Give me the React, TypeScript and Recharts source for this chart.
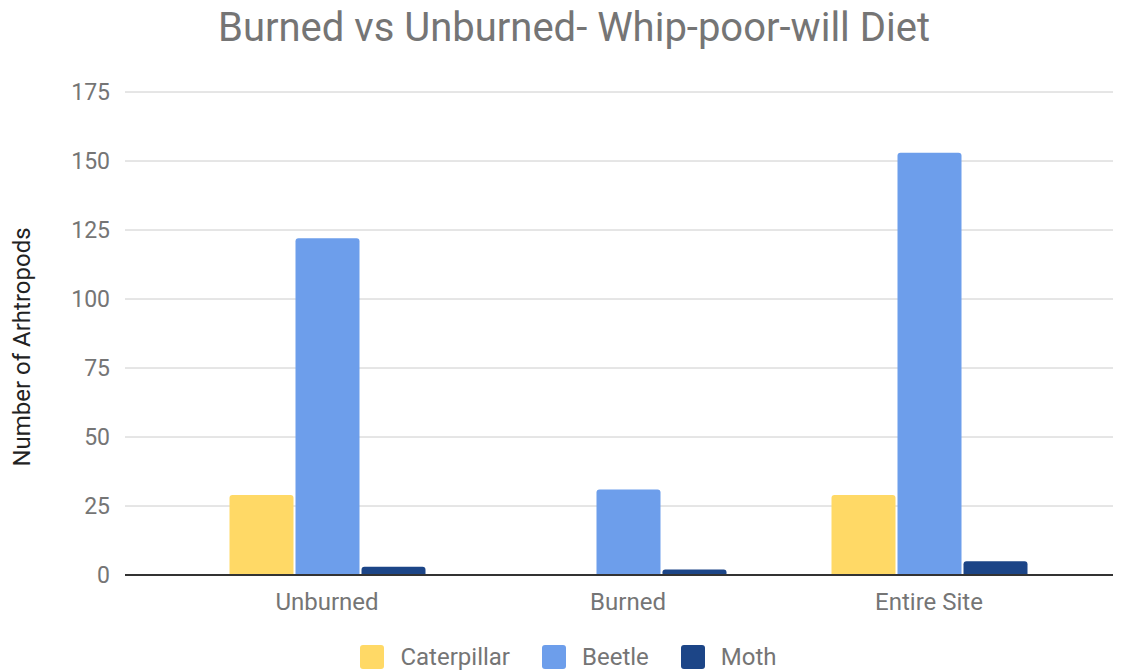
import React from 'react';
import { BarChart, Bar, XAxis, YAxis, CartesianGrid, Legend } from 'recharts';

const categories = ['Unburned', 'Burned', 'Entire Site'];
const caterpillar = [29, 0, 29];
const beetle = [122, 31, 153];
const moth = [3, 2, 5];
const yTicks = [0, 25, 50, 75, 100, 125, 150, 175];

const seriesNames = ['Caterpillar', 'Beetle', 'Moth'];
const seriesColors = ['#ffd966', '#6d9eeb', '#1c4587'];

const data = categories.map((c, i) => ({
  name: c,
  Caterpillar: caterpillar[i],
  Beetle: beetle[i],
  Moth: moth[i],
}));

const FONT = 'Roboto, "Noto Sans", sans-serif';

const LegendContent = () => (
  <div style={{ display: 'flex', justifyContent: 'center', height: 24, alignItems: 'center', fontFamily: FONT, paddingLeft: 24 }}>
    {seriesNames.map((n, i) => (
      <div key={n} style={{ display: 'flex', alignItems: 'center', marginLeft: i === 0 ? 0 : 32 }}>
        <div style={{ width: 24, height: 24, borderRadius: 3, background: seriesColors[i] }} />
        <span style={{ marginLeft: 16, fontSize: 24, color: '#757575', lineHeight: '24px' }}>{n}</span>
      </div>
    ))}
  </div>
);

const YLabel = () => {
  const cy = 347;
  return (
    <text
      x={22}
      y={cy}
      transform={`rotate(-90, 22, ${cy})`}
      textAnchor="middle"
      dominantBaseline="central"
      fill="#222222"
      fontSize={24}
      fontFamily={FONT}
    >
      Number of Arhtropods
    </text>
  );
};

export default function App() {
  return (
    <div style={{ position: 'absolute', left: 0, top: 0, width: 1127, height: 672, background: '#fff', fontFamily: FONT }}>
      <div
        style={{
          position: 'absolute',
          top: 2,
          left: 0,
          width: 1148,
          textAlign: 'center',
          fontSize: 40,
          color: '#757575',
          fontFamily: FONT,
          lineHeight: '52px',
        }}
      >
        Burned vs Unburned- Whip-poor-will Diet
      </div>
      <BarChart
        width={1127}
        height={672}
        data={data}
        margin={{ top: 92, right: 14, left: 0, bottom: 3 }}
        barSize={64}
        barGap={2}
      >
        <CartesianGrid vertical={false} stroke="#cccccc" strokeWidth={1} />
        <XAxis
          dataKey="name"
          height={70}
          padding={{ left: 51.5, right: 33.5 }}
          tickLine={false}
          tickSize={0}
          tickMargin={18}
          axisLine={{ stroke: '#333333', strokeWidth: 2 }}
          tick={{ fill: '#757575', fontSize: 24, fontFamily: FONT }}
        />
        <YAxis
          width={125}
          domain={[0, 175]}
          ticks={yTicks}
          interval={0}
          axisLine={false}
          tickLine={false}
          tickSize={0}
          tickMargin={15}
          tick={{ fill: '#757575', fontSize: 23, fontFamily: FONT }}
          label={<YLabel />}
        />
        <Legend verticalAlign="bottom" content={<LegendContent />} />
        {seriesNames.map((n, i) => (
          <Bar key={n} dataKey={n} fill={seriesColors[i]} radius={[3, 3, 0, 0]} isAnimationActive={false} />
        ))}
      </BarChart>
    </div>
  );
}
